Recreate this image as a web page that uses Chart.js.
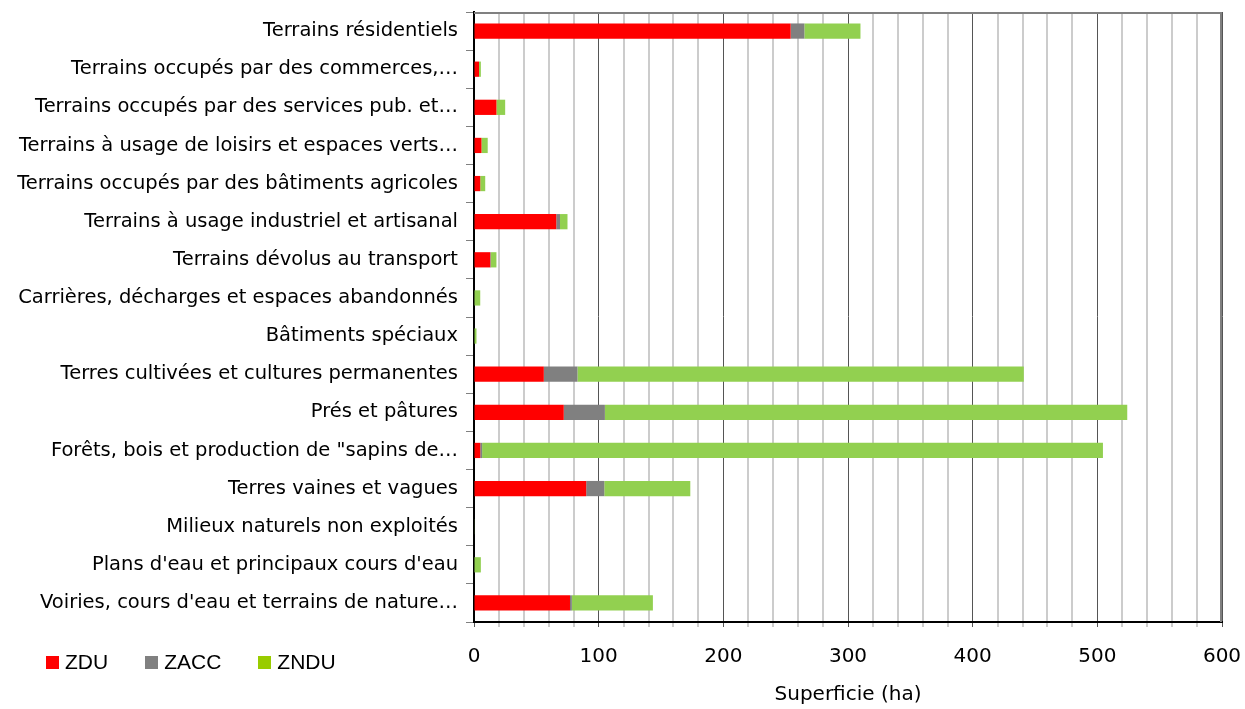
<!DOCTYPE html>
<html lang="fr">
<head>
<meta charset="utf-8">
<title>Superficie par type d'occupation</title>
<script src="https://cdn.jsdelivr.net/npm/chart.js@4.4.0/dist/chart.umd.min.js"></script>
<style>
    body { margin: 0; background: #fff; }
    #wrap { position: relative; width: 1245px; height: 709px; }
    #legend { position: absolute; left: 46px; top: 650px; font: 21px "Liberation Sans", Arial, sans-serif; color: #000; white-space: nowrap; }
    #legend span.item { display: inline-block; margin-right: 37px; }
    #legend span.box { display: inline-block; width: 13px; height: 13px; margin-right: 6px; vertical-align: 0px; }
</style>
</head>
<body>
<div id="wrap">
    <canvas id="landChart" width="1245" height="709"></canvas>
    <div id="legend"></div>
</div>
<script>
// Categories (top to bottom)
const categories = [
    'Terrains résidentiels',
    'Terrains occupés par des commerces,…',
    'Terrains occupés par des services pub. et…',
    'Terrains à usage de loisirs et espaces verts…',
    'Terrains occupés par des bâtiments agricoles',
    'Terrains à usage industriel et artisanal',
    'Terrains dévolus au transport',
    'Carrières, décharges et espaces abandonnés',
    'Bâtiments spéciaux',
    'Terres cultivées et cultures permanentes',
    'Prés et pâtures',
    'Forêts, bois et production de "sapins de…',
    'Terres vaines et vagues',
    'Milieux naturels non exploités',
    "Plans d'eau et principaux cours d'eau",
    "Voiries, cours d'eau et terrains de nature…"
];

// Superficie (ha) par zone
const zdu  = [254, 4, 18, 6, 5, 66, 13, 0, 0, 56, 72, 5, 90, 0, 0, 77];
const zacc = [11, 0, 0, 0, 0, 3, 0.5, 0, 0, 27, 33, 1.5, 14.5, 0, 0, 1.5];
const zndu = [45, 1.5, 7, 5, 4, 6, 4.5, 5, 2, 358, 419, 498, 69, 0.5, 5.5, 65];

const xTicks = [0, 100, 200, 300, 400, 500, 600];

document.addEventListener('DOMContentLoaded', function() {
    const ctx = document.getElementById('landChart');
    const fontFamily = '"DejaVu Sans", Verdana, sans-serif';

    // frame around the plot area (top and right edges)
    const frame = {
        id: 'frame',
        beforeDatasetsDraw(chart) {
            const a = chart.chartArea;
            const c = chart.ctx;
            c.save();
            c.strokeStyle = '#808080';
            c.lineWidth = 2;
            c.beginPath();
            c.moveTo(a.left, a.top + 1);
            c.lineTo(a.right - 1, a.top + 1);
            c.lineTo(a.right - 1, a.bottom);
            c.stroke();
            c.restore();
        }
    };

    const datasets = [
        { label: 'ZDU', data: zdu, backgroundColor: '#FF0000' },
        { label: 'ZACC', data: zacc, backgroundColor: '#808080' },
        { label: 'ZNDU', data: zndu, backgroundColor: '#92D050' }
    ];

    const chart = new Chart(ctx, {
        type: 'bar',
        data: {
            labels: categories,
            datasets: datasets.map(d => Object.assign({
                barPercentage: 0.4,
                categoryPercentage: 1,
                borderWidth: 0
            }, d))
        },
        options: {
            indexAxis: 'y',
            responsive: false,
            animation: false,
            layout: { padding: { top: 12, right: 23, left: 0, bottom: 0 } },
            scales: {
                x: {
                    stacked: true,
                    min: 0,
                    max: 600,
                    afterBuildTicks: scale => {
                        scale.ticks = [];
                        for (let v = 0; v <= 600; v += 20) scale.ticks.push({ value: v });
                    },
                    afterFit: scale => {
                        scale.height = 87;
                        scale.paddingLeft = 0;
                        scale.paddingRight = 0;
                    },
                    ticks: {
                        autoSkip: false,
                        maxRotation: 0,
                        padding: 18,
                        color: '#000',
                        font: { family: fontFamily, size: 20 },
                        callback: v => xTicks.includes(v) ? v : ''
                    },
                    grid: {
                        color: c => c.tick && c.tick.value % 100 === 0 ? '#555555' : '#cccccc',
                        lineWidth: c => c.tick && c.tick.value % 100 === 0 ? 1 : 2,
                        tickLength: 5
                    },
                    border: { color: '#000', width: 2 },
                    title: {
                        display: true,
                        text: 'Superficie (ha)',
                        color: '#000',
                        font: { family: fontFamily, size: 20 },
                        padding: { top: 0, bottom: 2 }
                    }
                },
                y: {
                    stacked: true,
                    afterFit: scale => {
                        scale.width = 474;
                        scale.paddingTop = 0;
                        scale.paddingBottom = 0;
                    },
                    ticks: {
                        autoSkip: false,
                        padding: 8,
                        color: '#000',
                        font: { family: fontFamily, size: 19.5 }
                    },
                    grid: {
                        offset: true,
                        drawOnChartArea: false,
                        tickLength: 8,
                        color: '#808080'
                    },
                    border: { color: '#000', width: 2 }
                }
            },
            plugins: {
                legend: { display: false },
                tooltip: { enabled: false }
            }
        },
        plugins: [frame]
    });

    // HTML legend built from the datasets
    const legend = document.getElementById('legend');
    chart.data.datasets.forEach(ds => {
        const item = document.createElement('span');
        item.className = 'item';
        const box = document.createElement('span');
        box.className = 'box';
        box.style.background = ds.label === 'ZNDU' ? '#99CC00' : ds.backgroundColor;
        item.appendChild(box);
        item.appendChild(document.createTextNode(ds.label));
        legend.appendChild(item);
    });
});
</script>
</body>
</html>
